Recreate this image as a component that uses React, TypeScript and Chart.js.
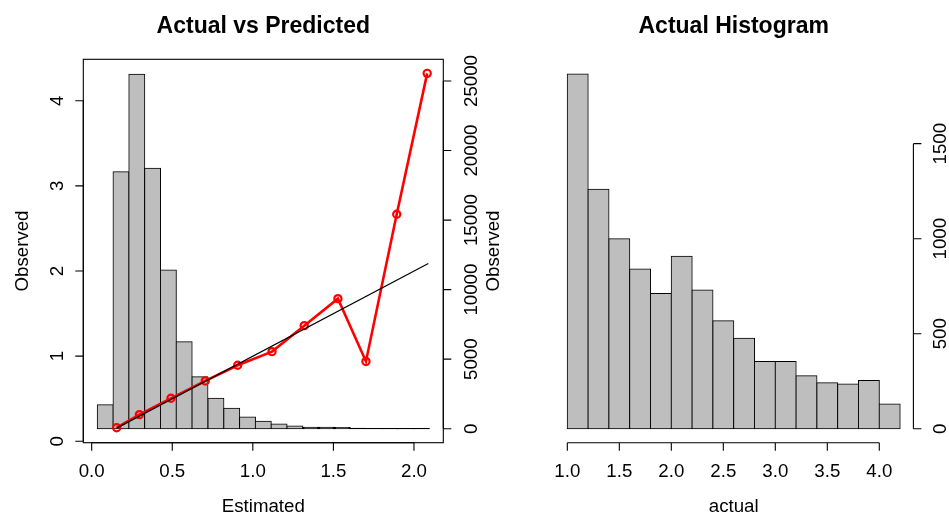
import React, { useEffect, useRef } from 'react';
import { Chart, registerables } from 'chart.js';

Chart.register(...registerables);

const FONT_FAMILY = "'Liberation Sans', Arial, Helvetica, sans-serif";

// ----- Left panel: "Actual vs Predicted" -----
const estHistCenters = [0.084, 0.182, 0.280, 0.378, 0.476, 0.574, 0.672, 0.771, 0.869, 0.967, 1.065, 1.163, 1.261, 1.359, 1.457, 1.555, 1.653, 1.751, 1.849, 1.947, 2.046];
const estHistCounts = [1726, 18480, 25480, 18720, 11410, 6255, 3740, 2186, 1467, 840, 530, 335, 190, 100, 95, 90, 20, 18, 15, 12, 10];
const estimatedMeans = [0.155, 0.296, 0.492, 0.705, 0.906, 1.119, 1.319, 1.528, 1.702, 1.893, 2.082];
const observedMeans = [0.160, 0.313, 0.505, 0.709, 0.893, 1.053, 1.358, 1.675, 0.938, 2.666, 4.321];
const identityX = [0.155, 2.089];
const identityY = [0.155, 2.089];
const estTicks = [0, 0.5, 1, 1.5, 2];
const estTickLabels = ['0.0', '0.5', '1.0', '1.5', '2.0'];
const obsTicks = [0, 1, 2, 3, 4];
const obsTickLabels = ['0', '1', '2', '3', '4'];
const countTicks = [0, 5000, 10000, 15000, 20000, 25000];
const countTickLabels = ['0', '5000', '10000', '15000', '20000', '25000'];

// ----- Right panel: "Actual Histogram" -----
const actualHistCenters = [1.1, 1.3, 1.5, 1.7, 1.9, 2.1, 2.3, 2.5, 2.7, 2.9, 3.1, 3.3, 3.5, 3.7, 3.9, 4.1];
const actualHistCounts = [1867, 1260, 1000, 840, 711, 907, 730, 568, 476, 353, 353, 279, 242, 235, 253, 130];
const actualTicks = [1, 1.5, 2, 2.5, 3, 3.5, 4];
const actualTickLabels = ['1.0', '1.5', '2.0', '2.5', '3.0', '3.5', '4.0'];
const actualCountTicks = [0, 500, 1000, 1500];
const actualCountTickLabels = ['0', '500', '1000', '1500'];

const BAR_FILL = '#BEBEBE';

type AxisSpec = {
  side: 'bottom' | 'left' | 'right';
  scaleId: string;
  ticks: number[];
  labels: string[];
  title?: string;
  labelOffset: number;
  titleOffset?: number;
};
type RConfig = { title: string; box: boolean; axes: AxisSpec[] };

function makeRPlugin(cfg: RConfig) {
  return {
    id: 'rStyle',
    afterDraw(chart: any) {
      const ctx = chart.ctx as CanvasRenderingContext2D;
      const a = chart.chartArea;
      const tickLen = 8;
      ctx.save();
      ctx.strokeStyle = '#000';
      ctx.fillStyle = '#000';
      ctx.lineWidth = 1.1;
      if (cfg.box) ctx.strokeRect(a.left, a.top, a.right - a.left, a.bottom - a.top);
      const rot = (text: string, cx: number, cy: number) => {
        ctx.save();
        ctx.translate(cx, cy);
        ctx.rotate(-Math.PI / 2);
        ctx.textAlign = 'center';
        ctx.textBaseline = 'alphabetic';
        ctx.fillText(text, 0, 0);
        ctx.restore();
      };
      for (const ax of cfg.axes) {
        const sc = chart.scales[ax.scaleId];
        const px = ax.ticks.map((v) => sc.getPixelForValue(v));
        ctx.font = `18.7px ${FONT_FAMILY}`;
        ctx.beginPath();
        if (ax.side === 'bottom') {
          const y = a.bottom;
          ctx.moveTo(px[0], y);
          ctx.lineTo(px[px.length - 1], y);
          px.forEach((p) => {
            ctx.moveTo(p, y);
            ctx.lineTo(p, y + tickLen);
          });
          ctx.stroke();
          ctx.textAlign = 'center';
          ctx.textBaseline = 'alphabetic';
          px.forEach((p, i) => ctx.fillText(ax.labels[i], p, y + ax.labelOffset));
          if (ax.title) ctx.fillText(ax.title, (a.left + a.right) / 2, y + (ax.titleOffset || 0));
        } else {
          const x = ax.side === 'left' ? a.left : a.right;
          const dir = ax.side === 'left' ? -1 : 1;
          ctx.moveTo(x, px[0]);
          ctx.lineTo(x, px[px.length - 1]);
          px.forEach((p) => {
            ctx.moveTo(x, p);
            ctx.lineTo(x + dir * tickLen, p);
          });
          ctx.stroke();
          px.forEach((p, i) => rot(ax.labels[i], x + ax.labelOffset, p));
          if (ax.title) rot(ax.title, x + (ax.titleOffset || 0), (a.top + a.bottom) / 2);
        }
      }
      ctx.font = `bold 23px ${FONT_FAMILY}`;
      ctx.textAlign = 'center';
      ctx.textBaseline = 'alphabetic';
      ctx.fillText(cfg.title, (a.left + a.right) / 2, a.top - 26);
      ctx.restore();
    },
  };
}

// Very short bars collapse to their outline (as R draws them): fill them with the border colour.
function barFill(minVisiblePx: number) {
  return (c: any) => {
    const raw = c.raw;
    if (!raw || !c.chart.scales) return BAR_FILL;
    const ys = c.chart.scales[c.dataset.yAxisID || 'y'];
    if (!ys) return BAR_FILL;
    const h = Math.abs(ys.getPixelForValue(0) - ys.getPixelForValue(raw.y));
    return h < minVisiblePx ? '#000000' : BAR_FILL;
  };
}

const W = 949;
const H = 516;

function leftConfig(): any {
  return {
    type: 'bar',
    data: {
      datasets: [
        {
          type: 'line',
          label: 'identity',
          data: identityX.map((x, i) => ({ x, y: identityY[i] })),
          xAxisID: 'x',
          yAxisID: 'y',
          borderColor: '#000000',
          borderWidth: 1.2,
          pointRadius: 0,
          tension: 0,
          order: 0,
        },
        {
          type: 'line',
          label: 'Observed',
          data: estimatedMeans.map((x, i) => ({ x, y: observedMeans[i] })),
          xAxisID: 'x',
          yAxisID: 'y',
          borderColor: '#FF0000',
          borderWidth: 2.6,
          pointRadius: 3.6,
          pointBorderWidth: 2.2,
          pointBackgroundColor: 'rgba(0,0,0,0)',
          pointBorderColor: '#FF0000',
          tension: 0,
          order: 1,
        },
        {
          type: 'bar',
          label: 'Estimated histogram',
          data: estHistCenters.map((x, i) => ({ x, y: estHistCounts[i] })),
          xAxisID: 'x',
          yAxisID: 'y2',
          backgroundColor: barFill(2),
          borderColor: '#000000',
          borderWidth: 1,
          borderSkipped: false,
          barPercentage: 1,
          categoryPercentage: 1,
          inflateAmount: 0.55,
          order: 2,
        },
      ],
    },
    options: {
      responsive: false,
      animation: false,
      devicePixelRatio: 1,
      events: [],
      layout: { padding: { left: 83.3, right: W - 443.3, top: 59.3, bottom: H - 442.7 } },
      plugins: { legend: { display: false }, tooltip: { enabled: false }, title: { display: false } },
      scales: {
        x: { type: 'linear', min: -0.052, max: 2.182, display: false, offset: false },
        y: { type: 'linear', min: -0.0164, max: 4.486, display: false },
        y2: { type: 'linear', position: 'right', min: -1007, max: 26560, display: false },
      },
    },
    plugins: [
      makeRPlugin({
        title: 'Actual vs Predicted',
        box: true,
        axes: [
          { side: 'bottom', scaleId: 'x', ticks: estTicks, labels: estTickLabels, title: 'Estimated', labelOffset: 34, titleOffset: 69.3 },
          { side: 'left', scaleId: 'y', ticks: obsTicks, labels: obsTickLabels, title: 'Observed', labelOffset: -20, titleOffset: -55.6 },
          { side: 'right', scaleId: 'y2', ticks: countTicks, labels: countTickLabels, title: 'Observed', labelOffset: 33.4, titleOffset: 55.2 },
        ],
      }),
    ],
  };
}

function rightConfig(): any {
  return {
    type: 'bar',
    data: {
      datasets: [
        {
          type: 'bar',
          label: 'actual',
          data: actualHistCenters.map((x, i) => ({ x, y: actualHistCounts[i] })),
          backgroundColor: BAR_FILL,
          borderColor: '#000000',
          borderWidth: 1,
          borderSkipped: false,
          barPercentage: 1,
          categoryPercentage: 1,
          inflateAmount: 0.55,
        },
      ],
    },
    options: {
      responsive: false,
      animation: false,
      devicePixelRatio: 1,
      events: [],
      layout: { padding: { left: 554.0, right: W - 913.4, top: 59.3, bottom: H - 442.7 } },
      plugins: { legend: { display: false }, tooltip: { enabled: false }, title: { display: false } },
      scales: {
        x: { type: 'linear', min: 0.872, max: 4.328, display: false, offset: false },
        y: { type: 'linear', min: -73.7, max: 1944, display: false },
      },
    },
    plugins: [
      makeRPlugin({
        title: 'Actual Histogram',
        box: false,
        axes: [
          { side: 'bottom', scaleId: 'x', ticks: actualTicks, labels: actualTickLabels, title: 'actual', labelOffset: 34, titleOffset: 69.3 },
          { side: 'right', scaleId: 'y', ticks: actualCountTicks, labels: actualCountTickLabels, labelOffset: 32.6 },
        ],
      }),
    ],
  };
}

export default function App() {
  const leftRef = useRef<HTMLCanvasElement>(null);
  const rightRef = useRef<HTMLCanvasElement>(null);
  useEffect(() => {
    const c1 = new Chart(leftRef.current as HTMLCanvasElement, leftConfig());
    const c2 = new Chart(rightRef.current as HTMLCanvasElement, rightConfig());
    return () => {
      c1.destroy();
      c2.destroy();
    };
  }, []);
  return (
    <div style={{ position: 'absolute', left: 0, top: 0, width: W, height: H, background: '#ffffff' }}>
      <canvas ref={leftRef} width={W} height={H} style={{ position: 'absolute', left: 0, top: 0, width: W, height: H }} />
      <canvas ref={rightRef} width={W} height={H} style={{ position: 'absolute', left: 0, top: 0, width: W, height: H }} />
    </div>
  );
}
